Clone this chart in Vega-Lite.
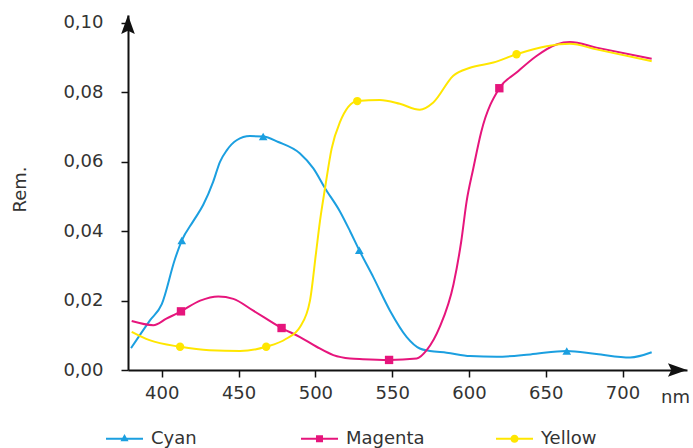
{
  "$schema": "https://vega.github.io/schema/vega-lite/v6.json",
  "autosize": "none",
  "width": 559,
  "height": 355,
  "padding": {"left": 128, "top": 15, "right": 6, "bottom": 78},
  "config": {
    "view": {"stroke": null},
    "font": "DejaVu Sans",
    "axis": {"grid": false, "labelFont": "DejaVu Sans", "titleFont": "DejaVu Sans", "labelColor": "#333333", "titleColor": "#333333", "labelFontSize": 18, "titleFontSize": 18, "titleFontWeight": "normal", "domainColor": "#111111", "domainWidth": 2, "tickColor": "#111111", "tickWidth": 1.5, "tickSize": 7}
  },
  "datasets": {
    "curves": [
      {"s": "Cyan", "nm": 380, "v": 0.0063},
      {"s": "Cyan", "nm": 392.3, "v": 0.0143},
      {"s": "Cyan", "nm": 400, "v": 0.019},
      {"s": "Cyan", "nm": 408.6, "v": 0.032},
      {"s": "Cyan", "nm": 413, "v": 0.0373},
      {"s": "Cyan", "nm": 420.5, "v": 0.0429},
      {"s": "Cyan", "nm": 427, "v": 0.0476},
      {"s": "Cyan", "nm": 433.5, "v": 0.0543},
      {"s": "Cyan", "nm": 437.9, "v": 0.06},
      {"s": "Cyan", "nm": 442.3, "v": 0.0633},
      {"s": "Cyan", "nm": 448.7, "v": 0.0662},
      {"s": "Cyan", "nm": 457.4, "v": 0.0674},
      {"s": "Cyan", "nm": 466, "v": 0.0673},
      {"s": "Cyan", "nm": 475.9, "v": 0.0657},
      {"s": "Cyan", "nm": 490, "v": 0.0624},
      {"s": "Cyan", "nm": 498.7, "v": 0.0581},
      {"s": "Cyan", "nm": 506.3, "v": 0.0524},
      {"s": "Cyan", "nm": 516, "v": 0.0457},
      {"s": "Cyan", "nm": 522.6, "v": 0.04},
      {"s": "Cyan", "nm": 528.6, "v": 0.0345},
      {"s": "Cyan", "nm": 537.8, "v": 0.0267},
      {"s": "Cyan", "nm": 548.6, "v": 0.0171},
      {"s": "Cyan", "nm": 559.5, "v": 0.0095},
      {"s": "Cyan", "nm": 568, "v": 0.0062},
      {"s": "Cyan", "nm": 574.6, "v": 0.0055},
      {"s": "Cyan", "nm": 585.5, "v": 0.005},
      {"s": "Cyan", "nm": 600.7, "v": 0.004},
      {"s": "Cyan", "nm": 618, "v": 0.0038},
      {"s": "Cyan", "nm": 640, "v": 0.0045},
      {"s": "Cyan", "nm": 663.7, "v": 0.0055},
      {"s": "Cyan", "nm": 683, "v": 0.0046},
      {"s": "Cyan", "nm": 705, "v": 0.0036},
      {"s": "Cyan", "nm": 719, "v": 0.0051},
      {"s": "Magenta", "nm": 380.4, "v": 0.0141},
      {"s": "Magenta", "nm": 394.5, "v": 0.0129},
      {"s": "Magenta", "nm": 403, "v": 0.0148},
      {"s": "Magenta", "nm": 412.5, "v": 0.0169},
      {"s": "Magenta", "nm": 425, "v": 0.02},
      {"s": "Magenta", "nm": 436.8, "v": 0.0212},
      {"s": "Magenta", "nm": 446.6, "v": 0.0205},
      {"s": "Magenta", "nm": 459.6, "v": 0.0171},
      {"s": "Magenta", "nm": 478, "v": 0.0121},
      {"s": "Magenta", "nm": 490, "v": 0.0095},
      {"s": "Magenta", "nm": 500.8, "v": 0.0067},
      {"s": "Magenta", "nm": 511.7, "v": 0.0043},
      {"s": "Magenta", "nm": 522.6, "v": 0.0033},
      {"s": "Magenta", "nm": 531, "v": 0.0031},
      {"s": "Magenta", "nm": 548, "v": 0.0029},
      {"s": "Magenta", "nm": 566, "v": 0.0033},
      {"s": "Magenta", "nm": 572.5, "v": 0.0057},
      {"s": "Magenta", "nm": 581, "v": 0.0124},
      {"s": "Magenta", "nm": 590, "v": 0.0248},
      {"s": "Magenta", "nm": 595, "v": 0.0371},
      {"s": "Magenta", "nm": 598.5, "v": 0.0486},
      {"s": "Magenta", "nm": 602.8, "v": 0.058},
      {"s": "Magenta", "nm": 608, "v": 0.0686},
      {"s": "Magenta", "nm": 619.8, "v": 0.0812},
      {"s": "Magenta", "nm": 631, "v": 0.0857},
      {"s": "Magenta", "nm": 644, "v": 0.0905},
      {"s": "Magenta", "nm": 657, "v": 0.0938},
      {"s": "Magenta", "nm": 665.8, "v": 0.0945},
      {"s": "Magenta", "nm": 683, "v": 0.0929},
      {"s": "Magenta", "nm": 719, "v": 0.0897},
      {"s": "Yellow", "nm": 380.4, "v": 0.011},
      {"s": "Yellow", "nm": 392, "v": 0.0086},
      {"s": "Yellow", "nm": 411.9, "v": 0.0067},
      {"s": "Yellow", "nm": 431, "v": 0.0057},
      {"s": "Yellow", "nm": 451, "v": 0.0055},
      {"s": "Yellow", "nm": 468, "v": 0.0067},
      {"s": "Yellow", "nm": 481, "v": 0.009},
      {"s": "Yellow", "nm": 490, "v": 0.0124},
      {"s": "Yellow", "nm": 496.5, "v": 0.02},
      {"s": "Yellow", "nm": 500.5, "v": 0.034},
      {"s": "Yellow", "nm": 503, "v": 0.0429},
      {"s": "Yellow", "nm": 506.3, "v": 0.0524},
      {"s": "Yellow", "nm": 510.6, "v": 0.0638},
      {"s": "Yellow", "nm": 516, "v": 0.0714},
      {"s": "Yellow", "nm": 527.3, "v": 0.0775},
      {"s": "Yellow", "nm": 542, "v": 0.0778},
      {"s": "Yellow", "nm": 555, "v": 0.0767},
      {"s": "Yellow", "nm": 568, "v": 0.075},
      {"s": "Yellow", "nm": 576.8, "v": 0.0771},
      {"s": "Yellow", "nm": 589.8, "v": 0.0848},
      {"s": "Yellow", "nm": 600.7, "v": 0.0871},
      {"s": "Yellow", "nm": 615.9, "v": 0.0886},
      {"s": "Yellow", "nm": 631, "v": 0.091},
      {"s": "Yellow", "nm": 650.6, "v": 0.0933},
      {"s": "Yellow", "nm": 665.8, "v": 0.094},
      {"s": "Yellow", "nm": 683, "v": 0.0924},
      {"s": "Yellow", "nm": 719, "v": 0.089}
    ],
    "markers": [
      {"s": "Cyan", "nm": 413, "v": 0.0373},
      {"s": "Cyan", "nm": 466, "v": 0.0673},
      {"s": "Cyan", "nm": 528.6, "v": 0.0345},
      {"s": "Cyan", "nm": 663.7, "v": 0.0055},
      {"s": "Magenta", "nm": 412.5, "v": 0.0169},
      {"s": "Magenta", "nm": 478, "v": 0.0121},
      {"s": "Magenta", "nm": 548, "v": 0.0029},
      {"s": "Magenta", "nm": 619.8, "v": 0.0812},
      {"s": "Yellow", "nm": 411.9, "v": 0.0067},
      {"s": "Yellow", "nm": 468, "v": 0.0067},
      {"s": "Yellow", "nm": 527.3, "v": 0.0775},
      {"s": "Yellow", "nm": 631, "v": 0.091}
    ]
  },
  "layer": [
    {
      "data": {"name": "curves"},
      "mark": {"type": "line", "interpolate": "monotone", "strokeWidth": 2},
      "encoding": {
        "x": {"field": "nm", "type": "quantitative", "scale": {"domain": [378, 742], "nice": false},
          "axis": {"values": [400, 450, 500, 550, 600, 650, 700], "labelPadding": 7, "title": "nm", "titleX": 547, "titleY": 27, "titleAlign": "center", "titleBaseline": "middle", "titleAngle": 0}},
        "y": {"field": "v", "type": "quantitative", "scale": {"domain": [0, 0.1023], "nice": false},
          "axis": {"values": [0, 0.02, 0.04, 0.06, 0.08, 0.1], "labelExpr": "replace(format(datum.value, '.2f'), '.', ',')", "labelPadding": 18, "title": "Rem.", "titleX": -108, "titleY": 174, "titleAlign": "center", "titleBaseline": "middle", "titleAngle": -90}},
        "color": {"field": "s", "type": "nominal", "title": null,
          "scale": {"domain": ["Cyan", "Magenta", "Yellow"], "range": ["#1b9fe0", "#e6157c", "#ffe600"]},
          "legend": {"orient": "none", "legendX": -22, "legendY": 405, "direction": "horizontal", "columns": 3, "gridAlign": "all", "columnPadding": 71, "padding": 0,
            "symbolSize": 1369, "labelOffset": 8, "labelFontSize": 18, "labelFont": "DejaVu Sans", "labelColor": "#333333", "symbolStrokeWidth": 0, "symbolOpacity": 1}
        }
      }
    },
    {
      "data": {"name": "markers"},
      "transform": [{"filter": "datum.nm < 0"}],
      "mark": {"type": "point", "filled": true, "opacity": 1},
      "encoding": {
        "x": {"field": "nm", "type": "quantitative"},
        "y": {"field": "v", "type": "quantitative"},
        "color": {"field": "s", "type": "nominal"},
        "shape": {"field": "s", "type": "nominal", "legend": null, "scale": {"domain": ["Cyan", "Magenta", "Yellow"], "range": [
          "M-1,-0.055L1,-0.055L1,0.055L-1,0.055Z M0,-0.26L0.22,0.14L-0.22,0.14Z",
          "M-1,-0.055L1,-0.055L1,0.055L-1,0.055Z M-0.19,-0.19L0.19,-0.19L0.19,0.19L-0.19,0.19Z",
          "M-1,-0.055L1,-0.055L1,0.055L-1,0.055Z M0.22,0A0.22,0.22 0 1,1 -0.22,0A0.22,0.22 0 1,1 0.22,0Z"
        ]}}
      }
    },
    {
      "data": {"name": "markers"},
      "transform": [{"filter": "datum.s === 'Cyan'"}],
      "mark": {"type": "point", "filled": true, "opacity": 1, "size": 75, "shape": "triangle-up"},
      "encoding": {
        "x": {"field": "nm", "type": "quantitative"},
        "y": {"field": "v", "type": "quantitative"},
        "color": {"field": "s", "type": "nominal"}
      }
    },
    {
      "data": {"name": "markers"},
      "transform": [{"filter": "datum.s === 'Magenta'"}],
      "mark": {"type": "point", "filled": true, "opacity": 1, "size": 70, "shape": "square"},
      "encoding": {
        "x": {"field": "nm", "type": "quantitative"},
        "y": {"field": "v", "type": "quantitative"},
        "color": {"field": "s", "type": "nominal"}
      }
    },
    {
      "data": {"name": "markers"},
      "transform": [{"filter": "datum.s === 'Yellow'"}],
      "mark": {"type": "point", "filled": true, "opacity": 1, "size": 70, "shape": "circle"},
      "encoding": {
        "x": {"field": "nm", "type": "quantitative"},
        "y": {"field": "v", "type": "quantitative"},
        "color": {"field": "s", "type": "nominal"}
      }
    },
    {
      "data": {"values": [{"nm": 378, "v": 0.1023}]},
      "mark": {"type": "point", "filled": true, "opacity": 1, "color": "#111111", "size": 740, "shape": "M0,0L0.5,1.4L0,1.15L-0.5,1.4Z"},
      "encoding": {"x": {"field": "nm", "type": "quantitative"}, "y": {"field": "v", "type": "quantitative"}}
    },
    {
      "data": {"values": [{"nm": 742, "v": 0}]},
      "mark": {"type": "point", "filled": true, "opacity": 1, "color": "#111111", "size": 740, "shape": "M0,0L-1.4,-0.5L-1.15,0L-1.4,0.5Z"},
      "encoding": {"x": {"field": "nm", "type": "quantitative"}, "y": {"field": "v", "type": "quantitative"}}
    }
  ]
}
